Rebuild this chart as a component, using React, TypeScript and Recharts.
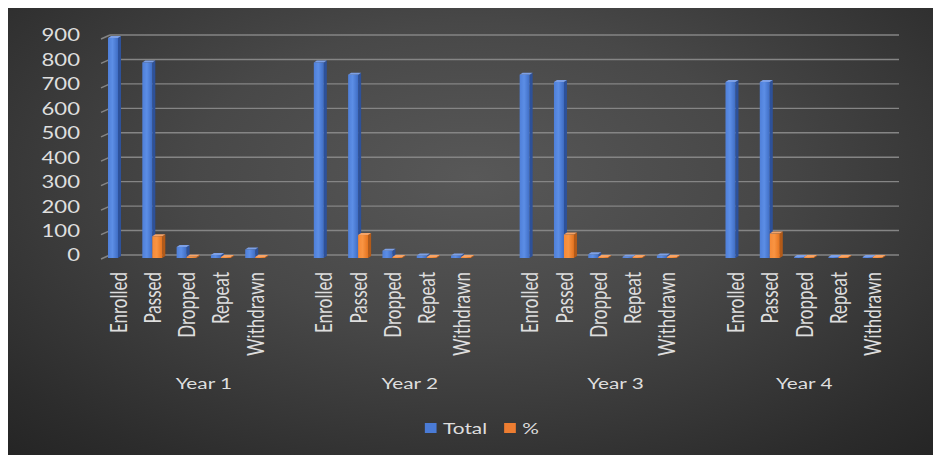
import { BarChart, Bar, XAxis, YAxis, CartesianGrid, Legend } from 'recharts'

// values
const YEARS = ['Year 1', 'Year 2', 'Year 3', 'Year 4']
const METRICS = ['Enrolled', 'Passed', 'Dropped', 'Repeat', 'Withdrawn']
const TOTAL_Y1 = [900, 800, 45, 12, 35]
const TOTAL_Y2 = [800, 750, 30, 10, 10]
const TOTAL_Y3 = [750, 720, 15, 5, 10]
const TOTAL_Y4 = [720, 720, 0, 0, 0]
const PCT_Y1 = [null, 89, 5, 1, 4]
const PCT_Y2 = [null, 94, 4, 1, 1]
const PCT_Y3 = [null, 96, 2, 1, 1]
const PCT_Y4 = [null, 100, 0, 0, 0]
const Y_TICKS = [0, 100, 200, 300, 400, 500, 600, 700, 800, 900]

const TOTALS = [TOTAL_Y1, TOTAL_Y2, TOTAL_Y3, TOTAL_Y4]
const PCTS = [PCT_Y1, PCT_Y2, PCT_Y3, PCT_Y4]

type Row = {
  key: string
  label: string
  total: number | null
  pct: number | null
  year?: string
  yearShift?: number
}

// Excel-style layout: a blank category separates the year groups
const rows: Row[] = []
YEARS.forEach((year, yi) => {
  const start = rows.length
  METRICS.forEach((m, mi) => {
    rows.push({ key: `${yi}-${mi}`, label: m, total: TOTALS[yi][mi], pct: PCTS[yi][mi] })
  })
  if (yi < YEARS.length - 1) rows.push({ key: `${yi}-gap`, label: '', total: null, pct: null })
  const mid = start + (rows.length - start - 1) / 2
  rows[Math.floor(mid)].year = year
  rows[Math.floor(mid)].yearShift = mid - Math.floor(mid)
})

const W = 936
const H = 448
const MARGIN = { top: 28, right: 51, left: 36, bottom: 10 }
const Y_AXIS_W = 60
const STEP = (W - MARGIN.left - MARGIN.right - Y_AXIS_W) / rows.length
const STRETCH = 1.3 // source image is stretched horizontally
const FONT = 'Lato, "Open Sans", sans-serif'
const TEXT = '#dedede'
const WALL_SHIFT = 9
const FLOOR_DROP = 3 // bars stand in front of the back wall

function GridLine(props: any) {
  const { x1, x2, y1 } = props
  return (
    <g>
      <line x1={x1} y1={y1 + 4} x2={x1 + WALL_SHIFT} y2={y1} stroke="#858585" strokeWidth={1.4} />
      <line x1={x1 + WALL_SHIFT} y1={y1} x2={x2 + WALL_SHIFT} y2={y1} stroke="#858585" strokeWidth={1.4} />
    </g>
  )
}

function YTick({ x, y, payload }: any) {
  return (
    <g transform={`translate(${x},${y}) scale(${STRETCH},1)`}>
      <text textAnchor="end" dominantBaseline="central" fill={TEXT} fontSize={17} fontFamily={FONT}>
        {payload.value}
      </text>
    </g>
  )
}

function CategoryTick({ x, y, payload }: any) {
  const row = rows[payload.index]
  if (!row) return null
  return (
    <g>
      <g transform={`translate(${x},${y + 9}) scale(${STRETCH},1) rotate(-90)`}>
        <text textAnchor="end" dominantBaseline="central" fill={TEXT} fontSize={17} fontFamily={FONT}>
          {row.label}
        </text>
      </g>
      {row.year && (
        <g transform={`translate(${x + (row.yearShift ?? 0) * STEP},${y + 120}) scale(${STRETCH},1)`}>
          <text textAnchor="middle" dominantBaseline="central" fill={TEXT} fontSize={16} fontFamily={FONT}>
            {row.year}
          </text>
        </g>
      )}
    </g>
  )
}

function Bar3D(props: any) {
  const { x, y, width, height, payload, dataKey, front, side, top } = props
  if (x == null || y == null || payload?.[dataKey] == null) return null
  const h = Math.max(height, 1)
  const yy = y + height - h + FLOOR_DROP
  const d = 3
  const dy = 2
  return (
    <g>
      <polygon
        points={`${x + width},${yy} ${x + width + d},${yy - dy} ${x + width + d},${yy + h - dy} ${x + width},${yy + h}`}
        fill={side}
      />
      <polygon
        points={`${x},${yy} ${x + d},${yy - dy} ${x + width + d},${yy - dy} ${x + width},${yy}`}
        fill={top}
      />
      <rect x={x} y={yy} width={width} height={h} fill={front} />
    </g>
  )
}

function LegendContent() {
  const item = (color: string, label: string, gap: number) => (
    <span style={{ display: 'inline-flex', alignItems: 'center', marginRight: gap }}>
      <span style={{ width: 9, height: 10, background: color, marginRight: 5, display: 'inline-block' }} />
      <span>{label}</span>
    </span>
  )
  return (
    <div style={{ textAlign: 'center', paddingLeft: 18, paddingTop: 13 }}>
      <span
        style={{
          display: 'inline-flex',
          transform: `scaleX(${STRETCH})`,
          color: TEXT,
          fontFamily: FONT,
          fontSize: 16,
          lineHeight: '20px',
        }}
      >
        {item('#4a7bd6', 'Total', 13)}
        {item('#ed7d31', '%', 0)}
      </span>
    </div>
  )
}

export default function App() {
  return (
    <div
      style={{
        margin: '-1px 0 0 -3px',
        width: W,
        height: H,
        background: 'radial-gradient(ellipse 75% 85% at 50% 38%, #585858 0%, #484848 40%, #2c2c2c 85%, #242424 100%)',
      }}
    >
      <BarChart width={W} height={H} data={rows} margin={MARGIN} barSize={10} barGap={0} barCategoryGap={0}>
        <defs>
          <linearGradient id="blueFront" x1="0" y1="0" x2="1" y2="0">
            <stop offset="0%" stopColor="#4f7fd8" />
            <stop offset="45%" stopColor="#5c8ee6" />
            <stop offset="100%" stopColor="#3f6dc4" />
          </linearGradient>
          <linearGradient id="orangeFront" x1="0" y1="0" x2="1" y2="0">
            <stop offset="0%" stopColor="#f58a38" />
            <stop offset="45%" stopColor="#f99442" />
            <stop offset="100%" stopColor="#e4731f" />
          </linearGradient>
        </defs>
        <CartesianGrid vertical={false} horizontal={(p: any) => <GridLine key={p.key} {...p} />} />
        <XAxis
          dataKey="key"
          interval={0}
          axisLine={false}
          tickLine={false}
          height={150}
          tick={<CategoryTick />}
        />
        <YAxis
          width={Y_AXIS_W}
          domain={[0, 900]}
          ticks={Y_TICKS}
          axisLine={false}
          tickLine={false}
          tickMargin={15}
          tick={<YTick />}
        />
        <Legend verticalAlign="bottom" height={40} wrapperStyle={{ left: 0, width: W }} content={<LegendContent />} />
        <Bar
          dataKey="total"
          name="Total"
          fill="#4a7bd6"
          isAnimationActive={false}
          shape={(p: any) => <Bar3D {...p} dataKey="total" front="url(#blueFront)" side="#2d519a" top="#7da0e6" />}
        />
        <Bar
          dataKey="pct"
          name="%"
          fill="#ed7d31"
          isAnimationActive={false}
          shape={(p: any) => <Bar3D {...p} dataKey="pct" front="url(#orangeFront)" side="#b35a18" top="#f6a468" />}
        />
      </BarChart>
    </div>
  )
}
